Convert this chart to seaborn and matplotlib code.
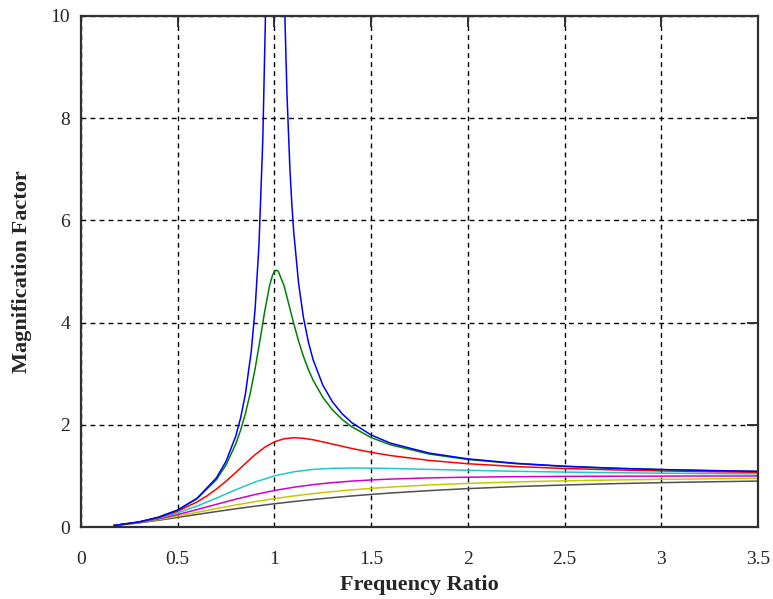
import matplotlib
matplotlib.use("Agg")
import matplotlib.pyplot as plt
import seaborn as sns
import pandas as pd

# ---- data ----
x_blue = [0.17, 0.3, 0.4, 0.5, 0.6, 0.7, 0.75, 0.8, 0.825, 0.85, 0.88, 0.9, 0.92, 0.94,
          0.953, 0.97, 1.03, 1.055, 1.065, 1.08, 1.09, 1.1, 1.125, 1.15, 1.175, 1.2, 1.25,
          1.3, 1.35, 1.4, 1.5, 1.6, 1.8, 2.0, 2.25, 2.5, 2.75, 3.0, 3.25, 3.5]
y_blue = [0.0298, 0.0989, 0.1905, 0.3333, 0.5625, 0.9608, 1.286, 1.778, 2.131, 2.604,
          3.433, 4.263, 5.510, 7.591, 9.89, 15.9, 17.4, 9.85, 8.452, 7.010, 6.316, 5.762,
          4.765, 4.101, 3.627, 3.273, 2.778, 2.449, 2.216, 2.042, 1.800, 1.641, 1.446,
          1.333, 1.246, 1.190, 1.152, 1.125, 1.105, 1.089]

x_green = [0.17, 0.3, 0.4, 0.5, 0.6, 0.7, 0.75, 0.8, 0.825, 0.85, 0.875, 0.9, 0.93, 0.95,
           0.975, 0.99, 1.0, 1.01, 1.02, 1.05, 1.1, 1.125, 1.15, 1.175, 1.2, 1.25, 1.3,
           1.35, 1.4, 1.5, 1.6, 1.8, 2.0, 2.25, 2.5, 2.75, 3.0, 3.25, 3.5]
y_green = [0.0297, 0.0987, 0.1896, 0.3304, 0.5528, 0.9265, 1.216, 1.624, 1.893, 2.220,
           2.618, 3.095, 3.762, 4.226, 4.725, 4.925, 5.0, 5.025, 5.003, 4.718, 3.979,
           3.636, 3.339, 3.086, 2.873, 2.538, 2.292, 2.105, 1.960, 1.750, 1.608, 1.428,
           1.322, 1.239, 1.185, 1.148, 1.122, 1.102, 1.087]

x_red = [0.17, 0.3, 0.4, 0.5, 0.6, 0.65, 0.7, 0.75, 0.8, 0.85, 0.9, 0.95, 1.0, 1.05, 1.1,
         1.15, 1.2, 1.3, 1.4, 1.5, 1.6, 1.8, 2.0, 2.25, 2.5, 2.75, 3.0, 3.25, 3.5]
y_red = [0.0296, 0.0970, 0.1832, 0.3095, 0.4903, 0.606, 0.7416, 0.896, 1.0667, 1.244,
         1.415, 1.561, 1.667, 1.727, 1.747, 1.736, 1.707, 1.623, 1.537, 1.461, 1.398,
         1.303, 1.238, 1.183, 1.145, 1.118, 1.098, 1.082, 1.070]

x_smooth = [0.17, 0.3, 0.4, 0.5, 0.6, 0.7, 0.8, 0.9, 1.0, 1.1, 1.2, 1.3, 1.4, 1.5, 1.6,
            1.8, 2.0, 2.25, 2.5, 2.75, 3.0, 3.25, 3.5]
y_cyan = [0.0293, 0.0939, 0.1720, 0.2774, 0.4104, 0.5658, 0.7295, 0.8806, 1.0, 1.0805,
          1.1267, 1.1483, 1.1546, 1.1523, 1.1456, 1.1275, 1.1094, 1.0901, 1.0748, 1.0628,
          1.0534, 1.0458, 1.0397]
y_magenta = [0.0289, 0.0898, 0.1585, 0.2437, 0.3409, 0.4435, 0.5440, 0.6357, 0.7143,
             0.7785, 0.8292, 0.8683, 0.8981, 0.9207, 0.9378, 0.9610, 0.9747, 0.9848,
             0.9905, 0.9940, 0.9961, 0.9974, 0.9983]
y_yellow = [0.0284, 0.0851, 0.1446, 0.2134, 0.2868, 0.3605, 0.4312, 0.4966, 0.5556,
            0.6077, 0.6532, 0.6927, 0.7268, 0.7562, 0.7816, 0.8226, 0.8536, 0.8825,
            0.9039, 0.9200, 0.9325, 0.9423, 0.9501]
y_black = [0.0278, 0.0801, 0.1315, 0.1878, 0.2454, 0.3020, 0.3563, 0.4072, 0.4545,
           0.4981, 0.5380, 0.5744, 0.6075, 0.6376, 0.6649, 0.7121, 0.7511, 0.7906,
           0.8220, 0.8473, 0.8678, 0.8846, 0.8986]

x_ticks = [0, 0.5, 1, 1.5, 2, 2.5, 3, 3.5]
x_tick_labels = ["0", "0.5", "1", "1.5", "2", "2.5", "3", "3.5"]
y_ticks = [0, 2, 4, 6, 8, 10]
y_tick_labels = ["0", "2", "4", "6", "8", "10"]

series = [
    (x_smooth, y_black, "#505050"),
    (x_smooth, y_yellow, "#c8c800"),
    (x_smooth, y_magenta, "#d000d0"),
    (x_smooth, y_cyan, "#20c8c8"),
    (x_red, y_red, "#ff0000"),
    (x_green, y_green, "#008000"),
    (x_blue, y_blue, "#0000ff"),
]

sns.set_style("white")
plt.rcParams["font.family"] = ["Liberation Serif", "DejaVu Serif"]

fig = plt.figure(figsize=(7.73, 5.99), dpi=100)
ax = fig.add_axes([81 / 773, 1 - 527 / 599, 677 / 773, 511 / 599])

for xs, ys, col in series:
    df = pd.DataFrame({"x": xs, "y": ys})
    sns.lineplot(data=df, x="x", y="y", color=col, lw=1.1, ax=ax,
                 estimator=None, sort=False)

ax.set_xlim(0, 3.5)
ax.set_ylim(0, 10)
ax.set_xticks(x_ticks)
ax.set_xticklabels(x_tick_labels)
ax.set_yticks(y_ticks)
ax.set_yticklabels(y_tick_labels)
ax.grid(True, color="black", linestyle=(0, (3.5, 3)), linewidth=1.0)
ax.set_axisbelow(True)
for sp in ax.spines.values():
    sp.set_color("#303030")
    sp.set_linewidth(1.6)
ax.tick_params(direction="in", length=8, width=1.4, color="#303030",
               top=True, right=True, labelsize=14)
ax.tick_params(axis="x", pad=17)
ax.tick_params(axis="y", pad=8)
ax.set_xlabel("Frequency Ratio", fontsize=16, fontweight="bold", labelpad=5)
ax.set_ylabel("Magnification Factor", fontsize=16, fontweight="bold", labelpad=13)

fig.savefig("out.png", dpi=100)
